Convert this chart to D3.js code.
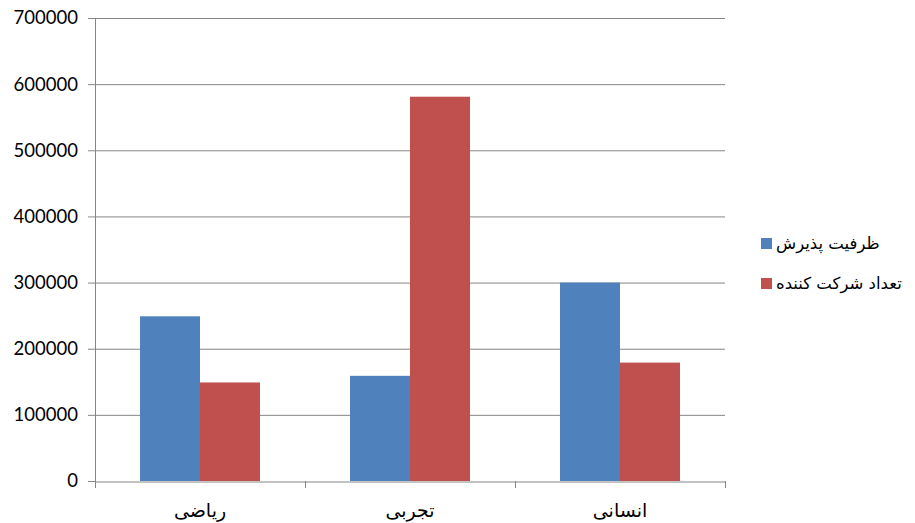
<!DOCTYPE html>
<html>
<head>
<meta charset="utf-8">
<script src="https://cdn.jsdelivr.net/npm/d3@7"></script>
<style>
	html, body { margin: 0; padding: 0; background: #fff; }
	svg { display: block; }
</style>
</head>
<body>
<div id="chart"></div>
<script>
var categories = ['ریاضی', 'تجربی', 'انسانی'];
var seriesNames = ['ظرفیت پذیرش', 'تعداد شرکت کننده'];
var capacity = [249000, 159000, 300000];
var participants = [149000, 581000, 179000];
var yTicks = [0, 100000, 200000, 300000, 400000, 500000, 600000, 700000];
var colors = ['#4F81BD', '#C0504D'];

var width = 915, height = 523;
var plot = { left: 95, right: 725, top: 18, bottom: 481 };
var gridColor = '#868686';

var svg = d3.select('#chart').append('svg')
	.attr('width', width)
	.attr('height', height);

var x0 = d3.scaleBand().domain(categories).range([plot.left, plot.right]).padding(0);
var x1 = d3.scaleBand().domain(d3.range(seriesNames.length))
	.range([45, x0.bandwidth() - 45]).padding(0);
var y = d3.scaleLinear().domain([0, 700000]).range([plot.bottom, plot.top]);

// horizontal gridlines + y axis
var yAxis = d3.axisLeft(y).tickValues(yTicks).tickSize(7).tickSizeOuter(0).tickFormat(d3.format('d'));
var gy = svg.append('g').attr('transform', 'translate(' + plot.left + ',0)').call(yAxis);
gy.select('.domain').attr('stroke', gridColor);
gy.selectAll('.tick line').attr('stroke', gridColor);
gy.selectAll('.tick text')
	.attr('x', -17)
	.attr('fill', '#000')
	.style('font-family', 'Lato, "Open Sans", sans-serif')
	.style('font-size', '18.5px');

svg.append('g').selectAll('line.grid')
	.data(yTicks.filter(function (d) { return d > 0; }))
	.enter().append('line')
	.attr('x1', plot.left).attr('x2', plot.right)
	.attr('y1', function (d) { return y(d) + 0.5; })
	.attr('y2', function (d) { return y(d) + 0.5; })
	.attr('stroke', gridColor).attr('stroke-width', 1);

// bars
var rows = categories.map(function (c, i) {
	return { cat: c, values: [capacity[i], participants[i]] };
});
var groups = svg.append('g').selectAll('g')
	.data(rows).enter().append('g')
	.attr('transform', function (d) { return 'translate(' + x0(d.cat) + ',0)'; });
groups.selectAll('rect')
	.data(function (d) { return d.values.map(function (v, k) { return { k: k, v: v }; }); })
	.enter().append('rect')
	.attr('x', function (d) { return x1(d.k); })
	.attr('width', x1.bandwidth())
	.attr('y', function (d) { return y(d.v); })
	.attr('height', function (d) { return y(0) - y(d.v); })
	.attr('fill', function (d) { return colors[d.k]; });

// x axis
var xAxis = d3.axisBottom(x0).tickSize(0).tickSizeOuter(0);
var gx = svg.append('g').attr('transform', 'translate(0,' + (plot.bottom + 0.5) + ')').call(xAxis);
gx.select('.domain').attr('stroke', gridColor);
gx.selectAll('.tick text')
	.attr('y', 22)
	.attr('fill', '#000')
	.style('font-family', '"DejaVu Sans", "Liberation Sans", sans-serif')
	.style('font-size', '19px');
var sepTicks = [plot.left].concat(categories.map(function (c) { return x0(c) + x0.bandwidth(); }));
svg.append('g').selectAll('line')
	.data(sepTicks).enter().append('line')
	.attr('x1', function (d) { return Math.round(d) + 0.5; })
	.attr('x2', function (d) { return Math.round(d) + 0.5; })
	.attr('y1', plot.bottom).attr('y2', plot.bottom + 7)
	.attr('stroke', gridColor);

// legend
var legend = svg.append('g').attr('transform', 'translate(761,238)');
var items = legend.selectAll('g').data(seriesNames).enter().append('g')
	.attr('transform', function (d, i) { return 'translate(0,' + (i * 40) + ')'; });
items.append('rect')
	.attr('width', 11).attr('height', 11)
	.attr('fill', function (d, i) { return colors[i]; });
items.append('text')
	.attr('x', 15).attr('y', 11)
	.attr('fill', '#000')
	.style('font-family', '"DejaVu Sans", "Liberation Sans", sans-serif')
	.style('font-size', '16.5px')
	.text(function (d) { return d; });
</script>
</body>
</html>
